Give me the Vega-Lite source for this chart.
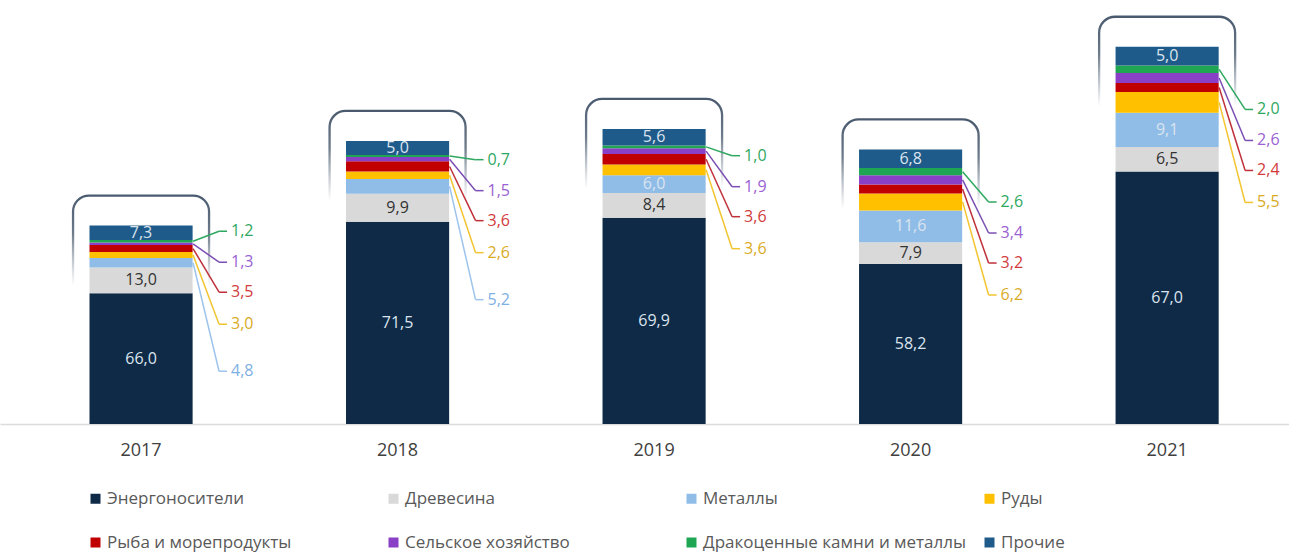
{
  "$schema": "https://vega.github.io/schema/vega-lite/v6.json",
  "width": 1289,
  "height": 424,
  "padding": {"left": 0, "top": 0, "right": 0, "bottom": 131},
  "autosize": {"type": "none"},
  "background": "white",
  "config": {
    "view": {"stroke": null},
    "font": "Open Sans",
    "locale": {"number": {"decimal": ",", "thousands": " ", "grouping": [3], "currency": ["", ""]}}
  },
  "data": {"values": [
    {"year": "2017", "cat": "Энергоносители", "k": 1, "share": 66.0, "value": 25.74},
    {"year": "2017", "cat": "Древесина", "k": 2, "share": 13.0, "value": 5.07},
    {"year": "2017", "cat": "Металлы", "k": 3, "share": 4.8, "value": 1.87},
    {"year": "2017", "cat": "Руды", "k": 4, "share": 3.0, "value": 1.17},
    {"year": "2017", "cat": "Рыба и морепродукты", "k": 5, "share": 3.5, "value": 1.37},
    {"year": "2017", "cat": "Сельское хозяйство", "k": 6, "share": 1.3, "value": 0.51},
    {"year": "2017", "cat": "Дракоценные камни и металлы", "k": 7, "share": 1.2, "value": 0.47},
    {"year": "2017", "cat": "Прочие", "k": 8, "share": 7.3, "value": 2.85},
    {"year": "2018", "cat": "Энергоносители", "k": 1, "share": 71.5, "value": 39.83},
    {"year": "2018", "cat": "Древесина", "k": 2, "share": 9.9, "value": 5.51},
    {"year": "2018", "cat": "Металлы", "k": 3, "share": 5.2, "value": 2.90},
    {"year": "2018", "cat": "Руды", "k": 4, "share": 2.6, "value": 1.45},
    {"year": "2018", "cat": "Рыба и морепродукты", "k": 5, "share": 3.6, "value": 2.01},
    {"year": "2018", "cat": "Сельское хозяйство", "k": 6, "share": 1.5, "value": 0.84},
    {"year": "2018", "cat": "Дракоценные камни и металлы", "k": 7, "share": 0.7, "value": 0.39},
    {"year": "2018", "cat": "Прочие", "k": 8, "share": 5.0, "value": 2.79},
    {"year": "2019", "cat": "Энергоносители", "k": 1, "share": 69.9, "value": 40.61},
    {"year": "2019", "cat": "Древесина", "k": 2, "share": 8.4, "value": 4.88},
    {"year": "2019", "cat": "Металлы", "k": 3, "share": 6.0, "value": 3.49},
    {"year": "2019", "cat": "Руды", "k": 4, "share": 3.6, "value": 2.09},
    {"year": "2019", "cat": "Рыба и морепродукты", "k": 5, "share": 3.6, "value": 2.09},
    {"year": "2019", "cat": "Сельское хозяйство", "k": 6, "share": 1.9, "value": 1.10},
    {"year": "2019", "cat": "Дракоценные камни и металлы", "k": 7, "share": 1.0, "value": 0.58},
    {"year": "2019", "cat": "Прочие", "k": 8, "share": 5.6, "value": 3.25},
    {"year": "2020", "cat": "Энергоносители", "k": 1, "share": 58.2, "value": 31.49},
    {"year": "2020", "cat": "Древесина", "k": 2, "share": 7.9, "value": 4.27},
    {"year": "2020", "cat": "Металлы", "k": 3, "share": 11.6, "value": 6.28},
    {"year": "2020", "cat": "Руды", "k": 4, "share": 6.2, "value": 3.35},
    {"year": "2020", "cat": "Рыба и морепродукты", "k": 5, "share": 3.2, "value": 1.73},
    {"year": "2020", "cat": "Сельское хозяйство", "k": 6, "share": 3.4, "value": 1.84},
    {"year": "2020", "cat": "Дракоценные камни и металлы", "k": 7, "share": 2.6, "value": 1.41},
    {"year": "2020", "cat": "Прочие", "k": 8, "share": 6.8, "value": 3.68},
    {"year": "2021", "cat": "Энергоносители", "k": 1, "share": 67.0, "value": 49.71},
    {"year": "2021", "cat": "Древесина", "k": 2, "share": 6.5, "value": 4.82},
    {"year": "2021", "cat": "Металлы", "k": 3, "share": 9.1, "value": 6.75},
    {"year": "2021", "cat": "Руды", "k": 4, "share": 5.5, "value": 4.08},
    {"year": "2021", "cat": "Рыба и морепродукты", "k": 5, "share": 2.4, "value": 1.78},
    {"year": "2021", "cat": "Сельское хозяйство", "k": 6, "share": 2.6, "value": 1.93},
    {"year": "2021", "cat": "Дракоценные камни и металлы", "k": 7, "share": 2.0, "value": 1.48},
    {"year": "2021", "cat": "Прочие", "k": 8, "share": 5.0, "value": 3.71}
  ]},
  "encoding": {
    "x": {
      "field": "year", "type": "ordinal",
      "scale": {"paddingInner": 0.598, "paddingOuter": 0.3115, "align": 0.56},
      "axis": {"title": null, "labelAngle": 0, "ticks": false, "domainColor": "#dcdcdc", "domainWidth": 1.5, "labelFontSize": 18, "labelColor": "#404040", "labelPadding": 17, "grid": false}
    }
  },
  "layer": [
    {
      "transform": [
        {"joinaggregate": [{"op": "sum", "field": "value", "as": "total"}], "groupby": ["year"]},
        {"filter": "datum.k == 1"}
      ],
      "mark": {
        "type": "bar", "width": 136, "cornerRadius": 16, "fill": "transparent", "strokeWidth": 2.3,
        "stroke": {"gradient": "linear", "x1": 0, "y1": 0, "x2": 0, "y2": 1, "stops": [
          {"offset": 0, "color": "#4a5a6e"}, {"offset": 0.3, "color": "#6d7b8b"}, {"offset": 0.72, "color": "rgba(140,150,165,0)"}, {"offset": 1, "color": "rgba(140,150,165,0)"}]},
        "yOffset": -30, "y2Offset": 95
      },
      "encoding": {
        "y": {"field": "total", "type": "quantitative", "scale": {"domain": [0, 83.46], "nice": false}, "axis": null},
        "y2": {"field": "total"}
      }
    },
    {
      "mark": {"type": "bar"},
      "encoding": {
        "y": {"field": "value", "type": "quantitative", "stack": "zero", "scale": {"domain": [0, 83.46], "nice": false}, "axis": null},
        "color": {
          "field": "cat", "type": "nominal",
          "scale": {
            "domain": ["Энергоносители", "Древесина", "Металлы", "Руды", "Рыба и морепродукты", "Сельское хозяйство", "Дракоценные камни и металлы", "Прочие"],
            "range": ["#0e2a47", "#d9d9d9", "#8fbde8", "#ffc000", "#c00000", "#8a3fc7", "#1ea653", "#1f5b8a"]
          },
          "legend": {
            "orient": "none", "legendX": 87, "legendY": 490, "direction": "horizontal", "columns": 4, "title": null,
            "symbolType": "square", "symbolSize": 100, "symbolStrokeWidth": 0, "symbolOpacity": 1, "labelOffset": 3,
            "labelFontSize": 17, "labelColor": "#595959", "columnPadding": 14, "rowPadding": 26, "gridAlign": "all", "labelLimit": 400
          }
        },
        "order": {"field": "k", "type": "quantitative", "sort": "ascending"}
      }
    },
    {
      "transform": [
        {"stack": "value", "groupby": ["year"], "sort": [{"field": "k", "order": "ascending"}], "as": ["y0", "y1"]},
        {"filter": "datum.k == 1 || datum.k == 2 || datum.k == 8 || (datum.k == 3 && indexof(['2019','2020','2021'], datum.year) >= 0)"},
        {"fold": ["y0", "y1"], "as": ["edge", "yy"]},
        {"aggregate": [{"op": "mean", "field": "yy", "as": "mid"}], "groupby": ["year", "k", "share"]}
      ],
      "mark": {"type": "text", "fontSize": 16, "baseline": "middle", "align": "center"},
      "encoding": {
        "y": {"field": "mid", "type": "quantitative", "scale": {"domain": [0, 83.46], "nice": false}},
        "text": {"field": "share", "type": "quantitative", "format": ".1f"},
        "color": {"condition": {"test": "datum.k == 2", "value": "#333333"}, "value": "#dbe4ee"}
      }
    },
    {
      "transform": [
        {"stack": "value", "groupby": ["year"], "sort": [{"field": "k", "order": "ascending"}], "as": ["y0", "y1"]},
        {"window": [{"op": "first_value", "field": "value", "as": "etop"}], "groupby": ["year"], "sort": [{"field": "k", "order": "ascending"}], "frame": [null, null]},
        {"filter": "datum.k == 7"},
        {"fold": ["y0", "y1"], "as": ["edge", "yy"]},
        {"aggregate": [{"op": "mean", "field": "yy", "as": "mid"}], "groupby": ["year", "k", "share", "etop"]}
      ],
      "layer": [
        {"mark": {"type": "rule", "color": "#2ea860", "strokeWidth": 1.5, "xOffset": 52, "x2Offset": 78, "y2Offset": -62},
         "encoding": {"y": {"field": "mid", "type": "quantitative", "scale": {"domain": [0, 83.46], "nice": false}}, "y2": {"field": "etop"}, "x2": {"field": "year"}}},
        {"mark": {"type": "rule", "color": "#2ea860", "strokeWidth": 1.5, "xOffset": 78, "x2Offset": 86, "yOffset": -62},
         "encoding": {"y": {"field": "etop", "type": "quantitative", "scale": {"domain": [0, 83.46], "nice": false}}, "x2": {"field": "year"}}},
        {"mark": {"type": "text", "color": "#2ea860", "fontSize": 16, "align": "left", "baseline": "middle", "dx": 90, "dy": -62},
         "encoding": {"y": {"field": "etop", "type": "quantitative", "scale": {"domain": [0, 83.46], "nice": false}}, "text": {"field": "share", "type": "quantitative", "format": ".1f"}}}
      ]
    },
    {
      "transform": [
        {"stack": "value", "groupby": ["year"], "sort": [{"field": "k", "order": "ascending"}], "as": ["y0", "y1"]},
        {"window": [{"op": "first_value", "field": "value", "as": "etop"}], "groupby": ["year"], "sort": [{"field": "k", "order": "ascending"}], "frame": [null, null]},
        {"filter": "datum.k == 6"},
        {"fold": ["y0", "y1"], "as": ["edge", "yy"]},
        {"aggregate": [{"op": "mean", "field": "yy", "as": "mid"}], "groupby": ["year", "k", "share", "etop"]}
      ],
      "layer": [
        {"mark": {"type": "rule", "color": "#7b4fb3", "strokeWidth": 1.5, "xOffset": 52, "x2Offset": 78, "y2Offset": -31},
         "encoding": {"y": {"field": "mid", "type": "quantitative", "scale": {"domain": [0, 83.46], "nice": false}}, "y2": {"field": "etop"}, "x2": {"field": "year"}}},
        {"mark": {"type": "rule", "color": "#7b4fb3", "strokeWidth": 1.5, "xOffset": 78, "x2Offset": 86, "yOffset": -31},
         "encoding": {"y": {"field": "etop", "type": "quantitative", "scale": {"domain": [0, 83.46], "nice": false}}, "x2": {"field": "year"}}},
        {"mark": {"type": "text", "color": "#9a62d2", "fontSize": 16, "align": "left", "baseline": "middle", "dx": 90, "dy": -31},
         "encoding": {"y": {"field": "etop", "type": "quantitative", "scale": {"domain": [0, 83.46], "nice": false}}, "text": {"field": "share", "type": "quantitative", "format": ".1f"}}}
      ]
    },
    {
      "transform": [
        {"stack": "value", "groupby": ["year"], "sort": [{"field": "k", "order": "ascending"}], "as": ["y0", "y1"]},
        {"window": [{"op": "first_value", "field": "value", "as": "etop"}], "groupby": ["year"], "sort": [{"field": "k", "order": "ascending"}], "frame": [null, null]},
        {"filter": "datum.k == 5"},
        {"fold": ["y0", "y1"], "as": ["edge", "yy"]},
        {"aggregate": [{"op": "mean", "field": "yy", "as": "mid"}], "groupby": ["year", "k", "share", "etop"]}
      ],
      "layer": [
        {"mark": {"type": "rule", "color": "#c0303a", "strokeWidth": 1.5, "xOffset": 52, "x2Offset": 78, "y2Offset": -1},
         "encoding": {"y": {"field": "mid", "type": "quantitative", "scale": {"domain": [0, 83.46], "nice": false}}, "y2": {"field": "etop"}, "x2": {"field": "year"}}},
        {"mark": {"type": "rule", "color": "#c0303a", "strokeWidth": 1.5, "xOffset": 78, "x2Offset": 86, "yOffset": -1},
         "encoding": {"y": {"field": "etop", "type": "quantitative", "scale": {"domain": [0, 83.46], "nice": false}}, "x2": {"field": "year"}}},
        {"mark": {"type": "text", "color": "#d13b3b", "fontSize": 16, "align": "left", "baseline": "middle", "dx": 90, "dy": -1},
         "encoding": {"y": {"field": "etop", "type": "quantitative", "scale": {"domain": [0, 83.46], "nice": false}}, "text": {"field": "share", "type": "quantitative", "format": ".1f"}}}
      ]
    },
    {
      "transform": [
        {"stack": "value", "groupby": ["year"], "sort": [{"field": "k", "order": "ascending"}], "as": ["y0", "y1"]},
        {"window": [{"op": "first_value", "field": "value", "as": "etop"}], "groupby": ["year"], "sort": [{"field": "k", "order": "ascending"}], "frame": [null, null]},
        {"filter": "datum.k == 4"},
        {"fold": ["y0", "y1"], "as": ["edge", "yy"]},
        {"aggregate": [{"op": "mean", "field": "yy", "as": "mid"}], "groupby": ["year", "k", "share", "etop"]}
      ],
      "layer": [
        {"mark": {"type": "rule", "color": "#f2c530", "strokeWidth": 1.5, "xOffset": 52, "x2Offset": 78, "y2Offset": 31},
         "encoding": {"y": {"field": "mid", "type": "quantitative", "scale": {"domain": [0, 83.46], "nice": false}}, "y2": {"field": "etop"}, "x2": {"field": "year"}}},
        {"mark": {"type": "rule", "color": "#f2c530", "strokeWidth": 1.5, "xOffset": 78, "x2Offset": 86, "yOffset": 31},
         "encoding": {"y": {"field": "etop", "type": "quantitative", "scale": {"domain": [0, 83.46], "nice": false}}, "x2": {"field": "year"}}},
        {"mark": {"type": "text", "color": "#d9ab1f", "fontSize": 16, "align": "left", "baseline": "middle", "dx": 90, "dy": 31},
         "encoding": {"y": {"field": "etop", "type": "quantitative", "scale": {"domain": [0, 83.46], "nice": false}}, "text": {"field": "share", "type": "quantitative", "format": ".1f"}}}
      ]
    },
    {
      "transform": [
        {"stack": "value", "groupby": ["year"], "sort": [{"field": "k", "order": "ascending"}], "as": ["y0", "y1"]},
        {"window": [{"op": "first_value", "field": "value", "as": "etop"}], "groupby": ["year"], "sort": [{"field": "k", "order": "ascending"}], "frame": [null, null]},
        {"filter": "datum.k == 3 && (datum.year == '2017' || datum.year == '2018')"},
        {"fold": ["y0", "y1"], "as": ["edge", "yy"]},
        {"aggregate": [{"op": "mean", "field": "yy", "as": "mid"}], "groupby": ["year", "k", "share", "etop"]}
      ],
      "layer": [
        {"mark": {"type": "rule", "color": "#9cc4ec", "strokeWidth": 1.5, "xOffset": 52, "x2Offset": 78, "y2Offset": 78},
         "encoding": {"y": {"field": "mid", "type": "quantitative", "scale": {"domain": [0, 83.46], "nice": false}}, "y2": {"field": "etop"}, "x2": {"field": "year"}}},
        {"mark": {"type": "rule", "color": "#9cc4ec", "strokeWidth": 1.5, "xOffset": 78, "x2Offset": 86, "yOffset": 78},
         "encoding": {"y": {"field": "etop", "type": "quantitative", "scale": {"domain": [0, 83.46], "nice": false}}, "x2": {"field": "year"}}},
        {"mark": {"type": "text", "color": "#7fb0e4", "fontSize": 16, "align": "left", "baseline": "middle", "dx": 90, "dy": 78},
         "encoding": {"y": {"field": "etop", "type": "quantitative", "scale": {"domain": [0, 83.46], "nice": false}}, "text": {"field": "share", "type": "quantitative", "format": ".1f"}}}
      ]
    }
  ]
}
